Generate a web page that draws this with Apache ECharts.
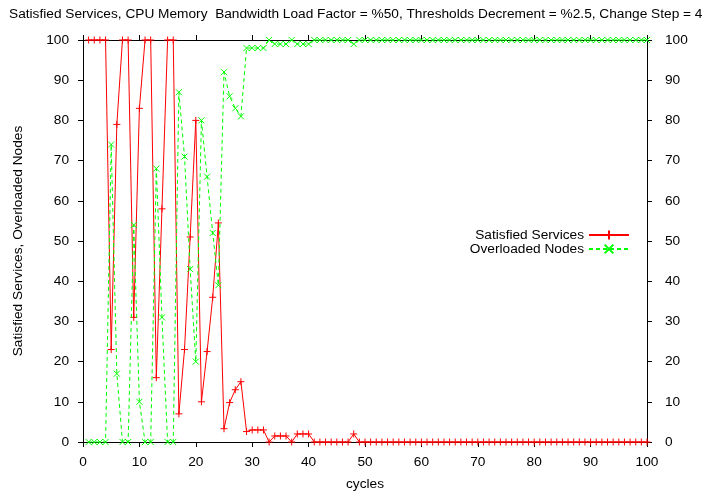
<!DOCTYPE html>
<html>
<head>
<meta charset="utf-8">
<script src="https://cdn.jsdelivr.net/npm/echarts@6/dist/echarts.min.js"></script>
<style>html,body{margin:0;padding:0;background:#fff}#c{width:720px;height:496px}</style>
</head>
<body>
<div id="c"></div>
<script>
const titleText = 'Satisfied Services, CPU Memory  Bandwidth Load Factor = %50, Thresholds Decrement = %2.5, Change Step = 4';
const seriesNames = ['Satisfied Services', 'Overloaded Nodes'];
const cycles = [1,2,3,4,5,6,7,8,9,10,11,12,13,14,15,16,17,18,19,20,21,22,23,24,25,26,27,28,29,30,31,32,33,34,35,36,37,38,39,40,41,42,43,44,45,46,47,48,49,50,51,52,53,54,55,56,57,58,59,60,61,62,63,64,65,66,67,68,69,70,71,72,73,74,75,76,77,78,79,80,81,82,83,84,85,86,87,88,89,90,91,92,93,94,95,96,97,98,99,100];
const satisfied = [100,100,100,100,23,79,100,100,31,83,100,100,16,58,100,100,7,23,51,80,10,22.5,36,54.5,3.3,9.8,13,15,2.6,3,3,3,0,1.5,1.5,1.5,0,2,2,2,0,0,0,0,0,0,0,2,0,0,0,0,0,0,0,0,0,0,0,0,0,0,0,0,0,0,0,0,0,0,0,0,0,0,0,0,0,0,0,0,0,0,0,0,0,0,0,0,0,0,0,0,0,0,0,0,0,0,0,0];
const overloaded = [0,0,0,0,74,17,0,0,54,10,0,0,68,31,0,0,87,71,43,20,80,66,52,39,92,86,83,81,98,98,98,98,100,99,99,99,100,99,99,99,100,100,100,100,100,100,100,99,100,100,100,100,100,100,100,100,100,100,100,100,100,100,100,100,100,100,100,100,100,100,100,100,100,100,100,100,100,100,100,100,100,100,100,100,100,100,100,100,100,100,100,100,100,100,100,100,100,100,100,100];
const xTicks = {min: 0, max: 100, interval: 10};
const yTicks = {min: 0, max: 100, interval: 10};

const font = 'Liberation Sans, Arial, Helvetica, sans-serif';
const fs = 13.7;
const chart = echarts.init(document.getElementById('c'), null, {renderer: 'canvas'});
const axisCommon = {
  axisLine: {show: true, onZero: false, lineStyle: {color: '#000', width: 1}},
  axisTick: {show: true, inside: false, length: 5, lineStyle: {color: '#000'}},
  splitLine: {show: false},
  axisLabel: {color: '#000', fontFamily: font, fontSize: fs}
};
chart.setOption({
  animation: false,
  backgroundColor: '#fff',
  title: {text: titleText, left: 9, top: 7, padding: 0, textStyle: {fontFamily: font, fontSize: fs, fontWeight: 'normal', color: '#000'}},
  grid: {left: 83, right: 73, top: 40, bottom: 53, containLabel: false},
  legend: {
    orient: 'vertical', right: 90, top: 228, padding: 0, align: 'right', itemWidth: 40, itemHeight: 11, itemGap: 0,
    textStyle: {fontFamily: font, fontSize: fs, color: '#000', lineHeight: 13}, data: seriesNames
  },
  xAxis: [
    Object.assign({}, axisCommon, {type: 'value', position: 'bottom', min: xTicks.min, max: xTicks.max, interval: xTicks.interval,
      name: 'cycles', nameLocation: 'middle', nameGap: 35, nameTextStyle: {fontFamily: font, fontSize: fs, color: '#000'},
      axisLabel: {color: '#000', fontFamily: font, fontSize: fs, margin: 13}}),
    Object.assign({}, axisCommon, {type: 'value', position: 'top', min: xTicks.min, max: xTicks.max, interval: xTicks.interval,
      axisLabel: {show: false}})
  ],
  yAxis: [
    Object.assign({}, axisCommon, {type: 'value', position: 'left', min: yTicks.min, max: yTicks.max, interval: yTicks.interval,
      name: 'Satisfied Services, Overloaded Nodes', nameLocation: 'middle', nameGap: 58, nameTextStyle: {fontFamily: font, fontSize: fs, color: '#000'},
      axisLabel: {color: '#000', fontFamily: font, fontSize: fs, margin: 14}}),
    Object.assign({}, axisCommon, {type: 'value', position: 'right', min: yTicks.min, max: yTicks.max, interval: yTicks.interval,
      axisLabel: {color: '#000', fontFamily: font, fontSize: fs, margin: 18}})
  ],
  series: [
    {
      name: seriesNames[0], type: 'line', clip: false, xAxisIndex: 0, yAxisIndex: 0,
      data: cycles.map((c, i) => [c, satisfied[i]]),
      symbol: 'path://M5,0L5,10M0,5L10,5', symbolSize: 7,
      lineStyle: {color: '#ff0000', width: 1},
      itemStyle: {color: '#ff0000', borderColor: '#ff0000', borderWidth: 1},
      z: 3
    },
    {
      name: seriesNames[1], type: 'line', clip: false, xAxisIndex: 0, yAxisIndex: 0,
      data: cycles.map((c, i) => [c, overloaded[i]]),
      symbol: 'path://M0,0L10,10M10,0L0,10', symbolSize: 6,
      lineStyle: {color: '#00ff00', width: 1, type: [4, 3]},
      itemStyle: {color: '#00ff00', borderColor: '#00ff00', borderWidth: 1},
      z: 4
    }
  ]
});
</script>
</body>
</html>
